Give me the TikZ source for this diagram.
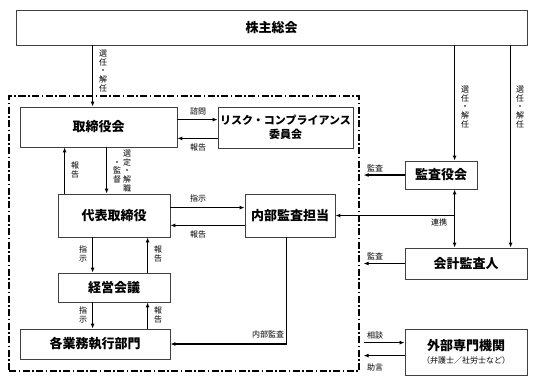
\documentclass[tikz,border=0pt]{standalone}
\usepackage{fontspec}
\setmainfont{Noto Sans CJK JP}
\usetikzlibrary{arrows.meta}
\newcommand\tightlines{\lineskiplimit=-6pt\relax\lineskip=0pt\relax}

\begin{document}
\begin{tikzpicture}[x=1pt,y=-1pt,>={Latex[length=5pt,width=4pt]},
  box/.style={draw=black!75,line width=0.8pt,inner sep=0pt,align=center,font=\fontsize{13}{15}\selectfont\bfseries},
  lab/.style={inner sep=0pt,align=center,font=\fontsize{8}{8.6}\selectfont\tightlines},
  arr/.style={->,line width=1.2pt},
  waku/.style={draw,line width=1.2pt,dash pattern=on 7pt off 2.5pt on 1.5pt off 2.5pt}]
\useasboundingbox (0,0) rectangle (536,386);

% boxes
\node[box,minimum width=511,minimum height=35] (soukai) at (271.5,27.5) {株主総会};
\node[waku,minimum width=350,minimum height=275,inner sep=0pt] (frame) at (184,233.5) {};
\node[box,minimum width=157,minimum height=40] (torishimari) at (98.5,127) {取締役会};
\node[box,minimum width=135,minimum height=41,font=\fontsize{11}{14}\selectfont\bfseries] (risk) at (285.5,127.5) {リスク・コンプライアンス\\委員会};
\node[box,minimum width=112,minimum height=43] (daihyo) at (114,215.5) {代表取締役};
\node[box,minimum width=90,minimum height=43] (naibukansa) at (290,215.5) {内部監査担当};
\node[box,minimum width=112,minimum height=29] (keiei) at (114,287.5) {経営会議};
\node[box,minimum width=150,minimum height=30] (gyomu) at (95,344) {各業務執行部門};
\node[box,minimum width=72,minimum height=28] (kansayaku) at (441,175) {監査役会};
\node[box,minimum width=122,minimum height=31] (kaikei) at (466,263.5) {会計監査人};
\node[box,minimum width=122,minimum height=46] (gaibu) at (466,352) {外部専門機関\\[-2pt]{\fontsize{8}{9}\selectfont\mdseries （弁護士／社労士など）}};

% 株主総会から
\draw[arr] ([xshift=73pt]torishimari.north west |- soukai.south) -- ([xshift=73pt]torishimari.north west);
\draw[arr] ([xshift=50pt]kansayaku.north west |- soukai.south) -- ([xshift=50pt]kansayaku.north west);
\draw[arr] ([xshift=106pt]kaikei.north west |- soukai.south) -- ([xshift=106pt]kaikei.north west);
\node[lab] (l-senin1) at (103,71) {選\\任\\・\\解\\任};
\node[lab] (l-senin2) at (465,107) {選\\任\\・\\解\\任};
\node[lab] (l-senin3) at (520,107) {選\\任\\・\\解\\任};

% 取締役会とリスク・コンプライアンス委員会
\draw[arr] ([yshift=-13pt]torishimari.north east) -- ([yshift=-13pt]torishimari.north east -| risk.west);
\draw[arr] ([yshift=9pt]torishimari.south east -| risk.west) -- ([yshift=9pt]torishimari.south east);
\node[lab] (l-shimon) at (198,111) {諮問};
\node[lab] (l-hokoku1) at (198,147) {報告};

% 取締役会と代表取締役
\draw[arr] ([xshift=7pt]daihyo.north west) -- ([xshift=7pt]daihyo.north west |- torishimari.south);
\draw[arr] ([xshift=49pt]daihyo.north west |- torishimari.south) -- ([xshift=49pt]daihyo.north west);
\node[lab] (l-hokoku2) at (75,170) {報\\告};
\node[lab] (l-sentei) at (127,171) {選\\定\\・\\解\\職};
\node[lab] (l-kantoku) at (117,172) {・\\監\\督};

% 代表取締役と内部監査担当
\draw[arr] ([yshift=-14pt]daihyo.north east) -- ([yshift=-14pt]daihyo.north east -| naibukansa.west);
\draw[arr] ([yshift=12pt]daihyo.south east -| naibukansa.west) -- ([yshift=12pt]daihyo.south east);
\node[lab] (l-shiji1) at (198,198) {指示};
\node[lab] (l-hokoku3) at (198,234) {報告};

% 代表取締役・経営会議・各業務執行部門
\draw[arr] ([xshift=35pt]keiei.north west |- daihyo.south) -- ([xshift=35pt]keiei.north west);
\draw[arr] ([xshift=90pt]keiei.north west) -- ([xshift=90pt]keiei.north west |- daihyo.south);
\draw[arr] ([xshift=35pt]keiei.south west) -- ([xshift=35pt]keiei.south west |- gyomu.north);
\draw[arr] ([xshift=90pt]keiei.south west |- gyomu.north) -- ([xshift=90pt]keiei.south west);
\node[lab] (l-shiji2) at (83,254) {指\\示};
\node[lab] (l-hokoku4) at (158,254) {報\\告};
\node[lab] (l-shiji3) at (83,315) {指\\示};
\node[lab] (l-hokoku5) at (158,315) {報\\告};

% 内部監査
\draw[arr] ([xshift=42pt]naibukansa.south west) |- (gyomu.east);
\node[lab] (l-naibu) at (268,334) {内部監査};

% 監査役会・会計監査人
\draw[arr] (kansayaku.west) -- ([xshift=4pt]frame.east |- kansayaku.west);
\draw[arr] (kaikei.west) -- ([xshift=4pt]frame.east |- kaikei.west);
\draw[arr,<->] ([xshift=50pt]kansayaku.south west) -- ([xshift=50pt]kansayaku.south west |- kaikei.north);
\draw[arr] ([xshift=50pt]kansayaku.south west |- naibukansa.east) -- (naibukansa.east);
\node[lab] (l-kansa1) at (375,168) {監査};
\node[lab] (l-kansa2) at (375,256) {監査};
\node[lab] (l-renkei) at (439,222) {連携};

% 外部専門機関
\draw[arr] ([xshift=4pt,yshift=-14pt]frame.east |- gaibu.north west) -- ([yshift=-14pt]gaibu.north west);
\draw[arr] ([yshift=-27pt]gaibu.north west) -- ([xshift=4pt,yshift=-27pt]frame.east |- gaibu.north west);
\node[lab] (l-sodan) at (375,335) {相談};
\node[lab] (l-jogen) at (375,367) {助言};
\end{tikzpicture}
\end{document}
